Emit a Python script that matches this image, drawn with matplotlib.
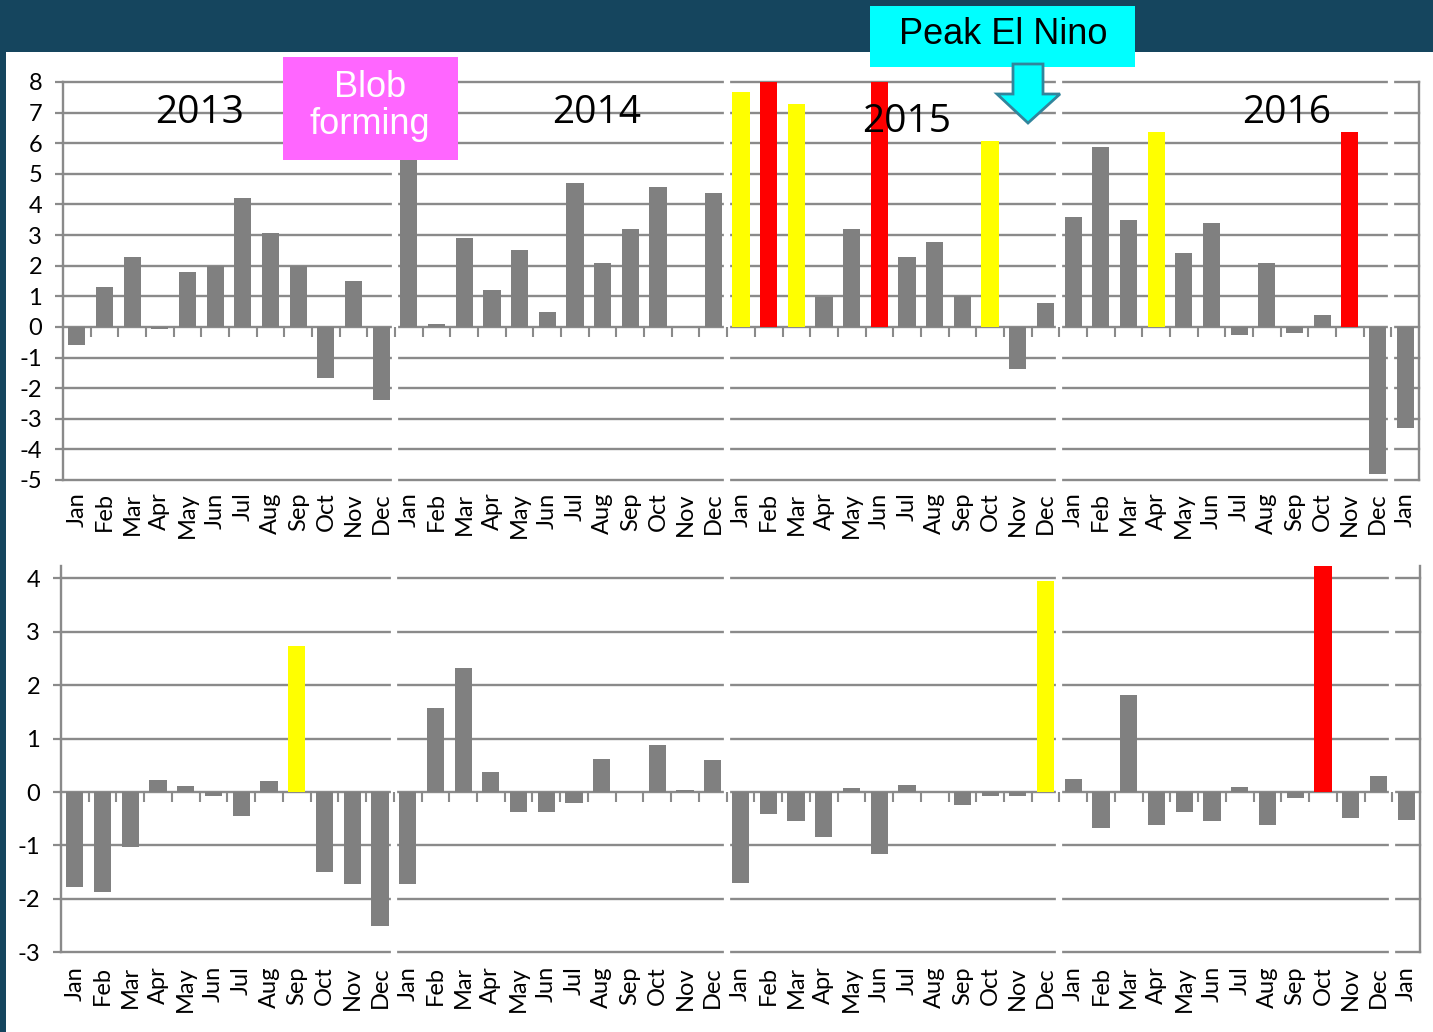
import numpy as np
import matplotlib
matplotlib.use("Agg")
import matplotlib.pyplot as plt
from matplotlib.patches import Rectangle, Polygon
from matplotlib.markers import TICKDOWN

# ---------------- data ----------------
months = ["Jan", "Feb", "Mar", "Apr", "May", "Jun", "Jul", "Aug", "Sep", "Oct", "Nov", "Dec"]
month_labels = months * 4 + ["Jan"]

top_values = [
    -0.58, 1.29, 2.29, -0.07, 1.79, 2.0, 4.21, 3.08, 2.0, -1.66, 1.5, -2.38,      # 2013
    6.3, 0.11, 2.91, 1.2, 2.5, 0.48, 4.7, 2.08, 3.2, 4.58, 0.0, 4.36,             # 2014
    7.67, 8.6, 7.28, 0.99, 3.2, 8.6, 2.27, 2.78, 1.0, 6.08, -1.38, 0.77,          # 2015
    3.58, 5.87, 3.5, 6.38, 2.41, 3.41, -0.28, 2.08, -0.2, 0.4, 6.38, -4.8,        # 2016
    -3.29,                                                                        # Jan 2017
]
top_colors_idx = {"yellow": [24, 26, 33, 39], "red": [25, 29, 46]}

bottom_values = [
    -1.78, -1.88, -1.02, 0.23, 0.11, -0.08, -0.44, 0.21, 2.73, -1.49, -1.73, -2.5,   # 2013
    -1.73, 1.58, 2.33, 0.38, -0.37, -0.37, -0.2, 0.61, 0.0, 0.88, 0.04, 0.59,        # 2014
    -1.71, -0.41, -0.55, -0.84, 0.08, -1.16, 0.13, 0.0, -0.24, -0.08, -0.08, 3.95,   # 2015
    0.25, -0.67, 1.81, -0.61, -0.37, -0.55, 0.09, -0.61, -0.12, 4.6, -0.48, 0.3,     # 2016
    -0.53,                                                                           # Jan 2017
]
bottom_colors_idx = {"yellow": [8, 35], "red": [45]}

year_labels = ["2013", "2014", "2015", "2016"]
year_label_pos = [(4.45, 7.0), (18.8, 7.0), (30.0, 6.7), (43.7, 7.0)]

top_yticks = list(range(-5, 9))
bottom_yticks = list(range(-3, 5))

# ---------------- style ----------------
W, H = 1433, 1032
GRAY_BAR = "#808080"
GRID = "#8a8a8a"
COLMAP = {"yellow": "#ffff00", "red": "#ff0000"}
TICKFONT = ["Lato", "DejaVu Sans"]
NARROW = ["Liberation Sans Narrow", "Liberation Sans", "DejaVu Sans"]


def colors_for(vals, idx):
    cols = [GRAY_BAR] * len(vals)
    for c, lst in idx.items():
        for i in lst:
            cols[i] = COLMAP[c]
    return cols


fig = plt.figure(figsize=(W / 100, H / 100), dpi=100)
fig.patch.set_facecolor("#15455e")
fig.add_artist(Rectangle((6 / W, 0), (W - 6) / W, (H - 52) / H,
                         transform=fig.transFigure, facecolor="white",
                         edgecolor="none", zorder=0))


def px_axes(x0, y0, x1, y1):
    return fig.add_axes([x0 / W, 1 - y1 / H, (x1 - x0) / W, (y1 - y0) / H])


def style_axes(ax, vals, cols, ylim, yticks, tick_len_pad):
    n = len(vals)
    x = np.arange(n)
    ax.set_facecolor("none")
    ax.bar(x, vals, width=0.62, color=cols, zorder=2)
    ax.set_xlim(-0.5, n - 0.5)
    ax.set_ylim(*ylim)
    ax.set_yticks(yticks)
    ax.set_yticklabels([str(t) for t in yticks])
    ax.yaxis.grid(True, color=GRID, lw=1.7)
    ax.set_axisbelow(True)
    for gl in ax.get_ygridlines():
        gl.set_clip_on(False)
    # year separators (white gaps in the grid)
    for b in np.arange(11.5, n, 12):
        ax.axvline(b, color="white", lw=4.5, zorder=1, clip_on=False)
    # small ticks on the zero line between categories
    bnds = np.arange(0.5, n - 1, 1.0)
    ax.plot(bnds, np.zeros_like(bnds), ls="none", marker=TICKDOWN,
            markersize=7, markeredgewidth=1.5, color=GRID, zorder=1.5)
    ax.set_xticks(x)
    ax.set_xticklabels(month_labels, rotation=90, family=TICKFONT, fontsize=17)
    ax.tick_params(axis="x", length=0, pad=tick_len_pad)
    ax.tick_params(axis="y", direction="out", length=6, width=1.6, color=GRID,
                   pad=9, labelsize=17)
    for lab in ax.get_yticklabels():
        lab.set_family(TICKFONT)
    for s in ["top", "bottom"]:
        ax.spines[s].set_visible(False)
    for s in ["left", "right"]:
        ax.spines[s].set_color(GRID)
        ax.spines[s].set_linewidth(1.7)


ax1 = px_axes(63, 82, 1419, 480)
style_axes(ax1, top_values, colors_for(top_values, top_colors_idx), (-5, 8), top_yticks, 9)

ax2 = px_axes(61, 566, 1420, 952.3)
style_axes(ax2, bottom_values, colors_for(bottom_values, bottom_colors_idx), (-3, 4.23), bottom_yticks, 10)

for lab, (xx, yy) in zip(year_labels, year_label_pos):
    ax1.text(xx, yy, lab, ha="center", va="center", fontsize=28,
             family=["Open Sans", "DejaVu Sans"], color="black", zorder=5)

# ---------------- annotations ----------------
def fx(x):
    return x / W


def fy(y):
    return 1 - y / H


# Blob forming box
fig.add_artist(Rectangle((fx(283), fy(160)), fx(458) - fx(283), fy(57) - fy(160),
                         transform=fig.transFigure, facecolor="#ff66ff",
                         edgecolor="none", zorder=10))
fig.text(fx(370), fy(106), "Blob\nforming", ha="center", va="center",
         color="white", fontsize=26, family=NARROW, linespacing=1.05, zorder=11)

# Peak El Nino box
fig.add_artist(Rectangle((fx(870), fy(67)), fx(1135) - fx(870), fy(6) - fy(67),
                         transform=fig.transFigure, facecolor="#00ffff",
                         edgecolor="none", zorder=10))
fig.text(fx(1003), fy(35), "Peak El Nino", ha="center", va="center",
         color="black", fontsize=26, family=NARROW, zorder=11)

# Down arrow
arrow_px = [(1013, 64), (1043, 64), (1043, 94), (1060, 94), (1028, 123),
            (997, 94), (1013, 94)]
fig.add_artist(Polygon([(fx(a), fy(b)) for a, b in arrow_px], closed=True,
                       transform=fig.transFigure, facecolor="#00ffff",
                       edgecolor="#31859c", lw=2, zorder=10))

fig.savefig("out.png", dpi=100, facecolor=fig.get_facecolor())
